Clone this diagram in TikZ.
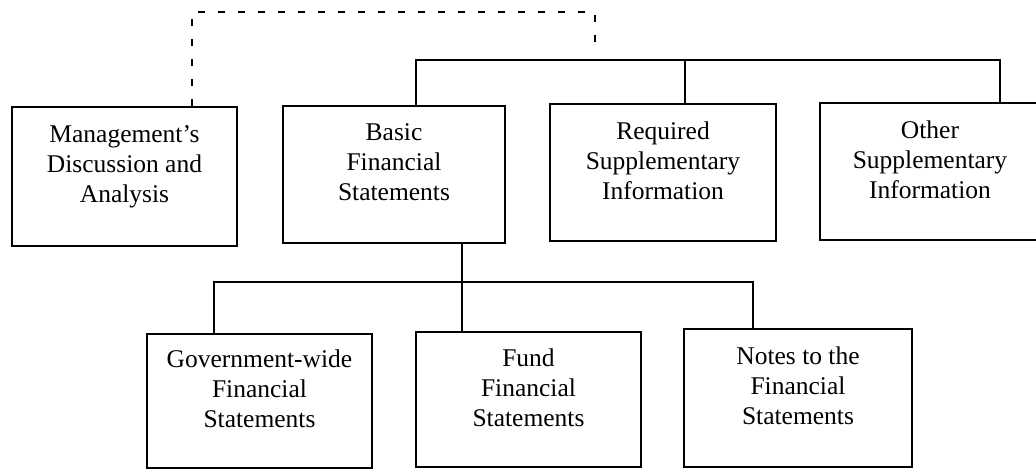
\documentclass[tikz,border=0pt]{standalone}
\usepackage{fontspec}
\setmainfont{Liberation Serif}
\begin{document}
\begin{tikzpicture}[x=1pt,y=1pt,
  boxnode/.style={draw=black, line width=2pt, rectangle, inner sep=0pt,
    align=center, font=\fontsize{25.5}{30}\selectfont},
  conn/.style={draw=black, line width=1.8pt},
  dashline/.style={draw=black, line width=1.8pt, dash pattern=on 7pt off 13pt}]
\useasboundingbox (0,0) rectangle (1036,-469);
% top row
\node[boxnode, minimum width=225pt, minimum height=139pt] (mda) at (124.5,-176.5)
  {Management’s\\Discussion and\\Analysis\\[-6pt]\mbox{}};
\node[boxnode, minimum width=222pt, minimum height=137pt] (bfs) at (394,-174.5)
  {Basic\\Financial\\Statements\\[-6pt]\mbox{}};
\node[boxnode, minimum width=226pt, minimum height=137pt] (rsi) at (663,-172.5)
  {Required\\Supplementary\\Information\\[-6pt]\mbox{}};
\node[boxnode, minimum width=220pt, minimum height=137pt] (osi) at (930,-171.5)
  {Other\\Supplementary\\Information\\[-6pt]\mbox{}};
% bottom row
\node[boxnode, minimum width=225pt, minimum height=134pt] (gov) at (259.5,-401)
  {Government-wide\\Financial\\Statements\\[-6pt]\mbox{}};
\node[boxnode, minimum width=225pt, minimum height=135pt] (ffs) at (528.5,-399.5)
  {Fund\\Financial\\Statements\\[-6pt]\mbox{}};
\node[boxnode, minimum width=228pt, minimum height=138pt] (nts) at (798,-398)
  {Notes to the\\Financial\\Statements\\[-6pt]\mbox{}};
% coordinates
\coordinate (busL) at (416,-60);
\coordinate (busM) at (685,-60);
\coordinate (busR) at (1000,-60);
\coordinate (bbusL) at (214,-282);
\coordinate (bbusM) at (462,-282);
\coordinate (bbusR) at (753,-282);
\coordinate (dTL) at (192,-12);
\coordinate (dTR) at (595,-12);
\coordinate (dEnd) at (595,-54);
% connectors
\draw[dashline] (mda.north -| dTL) -- (dTL) -- (dTR) -- (dEnd);
\draw[conn] (bfs.north -| busL) -- (busL) -- (busR) -- (osi.north -| busR);
\draw[conn] (busM) -- (rsi.north -| busM);
\draw[conn] (bfs.south -| bbusM) -- (ffs.north -| bbusM);
\draw[conn] (gov.north -| bbusL) -- (bbusL) -- (bbusR) -- (nts.north -| bbusR);
\end{tikzpicture}
\end{document}
